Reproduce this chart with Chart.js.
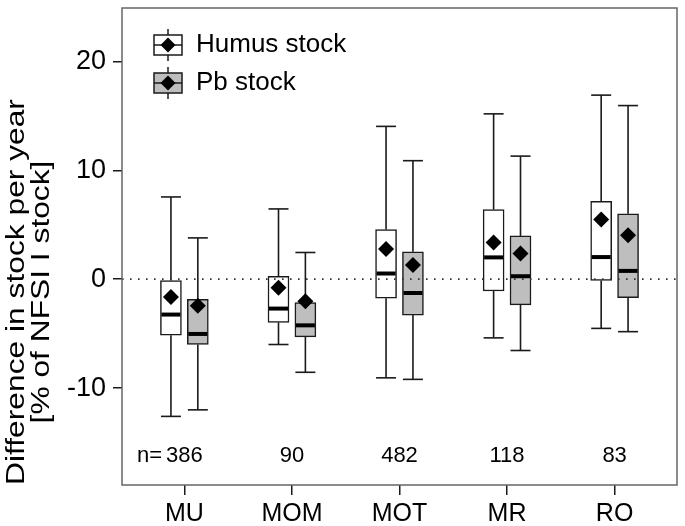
<!DOCTYPE html>
<html lang="en">
  <head>
    <meta charset="UTF-8" />
    <title>Stock change per year</title>
    <style>
      body {
        margin: 0;
        padding: 0;
        background: #fff;
      }
      #chartBox {
        width: 685px;
        height: 526px;
      }
    </style>
  </head>
  <body>
    <div id="chartBox">
      <canvas id="stockChart" width="685" height="526"></canvas>
    </div>

    <script src="https://cdn.jsdelivr.net/npm/chart.js"></script>
    <script>
      // Categories and sample sizes
      const categories = ["MU", "MOM", "MOT", "MR", "RO"];
      const sampleSizes = [386, 90, 482, 118, 83];
      const yTicks = [-10, 0, 10, 20];
      const yTitle = ["Difference in stock per year", "[% of NFSI I stock]"];

      // Humus stock box plot values
      const humusMin = [-12.6, -6.0, -9.06, -5.39, -4.52];
      const humusQ1 = [-5.15, -3.97, -1.75, -1.09, -0.12];
      const humusMedian = [-3.25, -2.7, 0.52, 2.0, 2.03];
      const humusQ3 = [-0.12, 0.27, 4.55, 6.39, 7.15];
      const humusMax = [7.55, 6.45, 14.03, 15.18, 16.9];
      const humusMean = [-1.64, -0.79, 2.76, 3.36, 5.48];

      // Pb stock box plot values
      const pbMin = [-12.0, -8.55, -9.2, -6.55, -4.82];
      const pbQ1 = [-6.0, -5.3, -3.3, -2.36, -1.7];
      const pbMedian = [-5.03, -4.24, -1.27, 0.27, 0.76];
      const pbQ3 = [-1.85, -2.15, 2.52, 3.97, 6.0];
      const pbMax = [3.79, 2.45, 10.88, 11.3, 15.94];
      const pbMean = [-2.45, -2.03, 1.3, 2.36, 4.03];

      const FONT = "'Liberation Sans', Arial, Helvetica, sans-serif";
      const INK = "#1a1a1a";
      const GREY_FILL = "#bebebe";
      const OFFSET = 0.125; // shift of each series from the category tick
      const N_LABEL_Y = -16.2; // value where the n= labels sit

      const series = [
        {
          label: "Humus stock",
          fill: "#ffffff",
          off: -OFFSET,
          min: humusMin,
          q1: humusQ1,
          med: humusMedian,
          q3: humusQ3,
          max: humusMax,
          mean: humusMean,
        },
        {
          label: "Pb stock",
          fill: GREY_FILL,
          off: OFFSET,
          min: pbMin,
          q1: pbQ1,
          med: pbMedian,
          q3: pbQ3,
          max: pbMax,
          mean: pbMean,
        },
      ];

      const boxDatasets = series.map((s, k) => ({
        type: "bar",
        label: s.label,
        seriesIndex: k,
        data: categories.map((c, i) => ({ x: i + 1 + s.off, y: [s.q1[i], s.q3[i]] })),
        backgroundColor: s.fill,
        borderColor: INK,
        borderWidth: 1.5,
        borderSkipped: false,
        barThickness: 21,
        grouped: false,
        order: 2,
      }));

      const meanDatasets = series.map((s) => ({
        type: "scatter",
        label: s.label + " mean",
        data: categories.map((c, i) => ({ x: i + 1 + s.off, y: s.mean[i] })),
        pointStyle: "rectRot",
        pointRadius: 8,
        pointHoverRadius: 8,
        backgroundColor: "#000",
        borderWidth: 0,
        order: 1,
      }));

      function line(ctx, x1, y1, x2, y2) {
        ctx.beginPath();
        ctx.moveTo(x1, y1);
        ctx.lineTo(x2, y2);
        ctx.stroke();
      }

      // Whiskers, medians, zero line, frame, legend, n labels and y title
      const boxPlotExtras = {
        id: "boxPlotExtras",
        beforeDatasetsDraw(chart) {
          const { ctx, scales } = chart;
          const xs = scales.x;
          const ys = scales.y;
          ctx.save();
          ctx.strokeStyle = INK;
          ctx.lineWidth = 1.6;
          series.forEach((s) => {
            categories.forEach((c, i) => {
              const x = xs.getPixelForValue(i + 1 + s.off);
              const half = 10;
              const yMax = ys.getPixelForValue(s.max[i]);
              const yMin = ys.getPixelForValue(s.min[i]);
              line(ctx, x, ys.getPixelForValue(s.q3[i]), x, yMax);
              line(ctx, x, ys.getPixelForValue(s.q1[i]), x, yMin);
              line(ctx, x - half, yMax, x + half, yMax);
              line(ctx, x - half, yMin, x + half, yMin);
            });
          });
          ctx.restore();
        },
        afterDatasetDraw(chart, args) {
          const ds = chart.data.datasets[args.index];
          if (ds.type !== "bar") return;
          const s = series[ds.seriesIndex];
          const { ctx, scales } = chart;
          const meta = chart.getDatasetMeta(args.index);
          ctx.save();
          ctx.strokeStyle = "#000";
          ctx.lineWidth = 4;
          meta.data.forEach((bar, i) => {
            const y = scales.y.getPixelForValue(s.med[i]);
            line(ctx, bar.x - bar.width / 2 + 1, y, bar.x + bar.width / 2 - 1, y);
          });
          // dotted zero line over the boxes (bars are drawn last index first)
          if (ds.seriesIndex === 0) {
            const area = chart.chartArea;
            const y0 = scales.y.getPixelForValue(0);
            ctx.strokeStyle = "#333";
            ctx.lineWidth = 1.6;
            ctx.setLineDash([1.6, 6.4]);
            line(ctx, area.left, y0, area.right, y0);
          }
          ctx.restore();
        },
        afterDraw(chart) {
          const { ctx, scales } = chart;
          const area = chart.chartArea;
          ctx.save();

          // plot frame
          ctx.strokeStyle = "#666";
          ctx.lineWidth = 1.5;
          ctx.strokeRect(area.left, area.top, area.right - area.left, area.bottom - area.top);

          // sample sizes, number centred on the tick, "n=" in front of the first
          ctx.fillStyle = "#000";
          ctx.font = "22px " + FONT;
          ctx.textBaseline = "middle";
          const ny = scales.y.getPixelForValue(N_LABEL_Y);
          sampleSizes.forEach((n, i) => {
            const nx = scales.x.getPixelForValue(i + 1);
            ctx.textAlign = "center";
            ctx.fillText(String(n), nx, ny);
            if (i === 0) {
              const w = ctx.measureText(String(n)).width;
              ctx.textAlign = "right";
              ctx.fillText("n=", nx - w / 2 - 4, ny);
            }
          });

          // y axis title, two rotated lines
          ctx.save();
          ctx.translate(0, 292);
          ctx.rotate(-Math.PI / 2);
          ctx.scale(1.27, 1);
          ctx.font = "25px " + FONT;
          ctx.textAlign = "center";
          ctx.textBaseline = "middle";
          ctx.fillText(yTitle[0], 0, 17);
          ctx.fillText(yTitle[1], 0, 42);
          ctx.restore();

          // legend
          const lx = area.left + 46;
          const ly = area.top + 37;
          series.forEach((s, k) => {
            const cy = ly + k * 38;
            ctx.strokeStyle = INK;
            ctx.lineWidth = 1.5;
            line(ctx, lx, cy - 16, lx, cy + 16);
            ctx.fillStyle = s.fill;
            ctx.fillRect(lx - 14, cy - 10, 28, 20);
            ctx.strokeRect(lx - 14, cy - 10, 28, 20);
            line(ctx, lx - 14, cy, lx + 14, cy);
            ctx.fillStyle = "#000";
            ctx.beginPath();
            ctx.moveTo(lx, cy - 7.5);
            ctx.lineTo(lx + 7.5, cy);
            ctx.lineTo(lx, cy + 7.5);
            ctx.lineTo(lx - 7.5, cy);
            ctx.closePath();
            ctx.fill();
            ctx.font = "26px " + FONT;
            ctx.textAlign = "left";
            ctx.textBaseline = "middle";
            ctx.fillText(s.label, lx + 28, cy);
          });
          ctx.restore();
        },
      };

      const ctx = document.getElementById("stockChart").getContext("2d");
      const stockChart = new Chart(ctx, {
        type: "bar",
        data: {
          datasets: [...meanDatasets, ...boxDatasets],
        },
        options: {
          responsive: false,
          animation: false,
          devicePixelRatio: 1,
          layout: {
            padding: { top: 3, right: 5, left: 0, bottom: 0 },
          },
          plugins: {
            legend: { display: false },
            tooltip: { enabled: false },
          },
          scales: {
            x: {
              type: "linear",
              min: 0.42,
              max: 5.58,
              offset: false,
              afterBuildTicks: (scale) => {
                scale.ticks = categories.map((c, i) => ({ value: i + 1 }));
              },
              afterFit: (scale) => {
                scale.height = 41;
                scale.paddingLeft = 0;
                scale.paddingRight = 0;
              },
              ticks: {
                callback: (value) => categories[value - 1],
                color: "#000",
                font: { family: FONT, size: 25 },
                padding: 4,
                maxRotation: 0,
                autoSkip: false,
              },
              grid: {
                offset: false,
                drawOnChartArea: false,
                drawTicks: true,
                tickLength: 10,
                color: INK,
                lineWidth: 1.5,
              },
              border: { display: false },
            },
            y: {
              min: -18.9,
              max: 24.9,
              afterBuildTicks: (scale) => {
                scale.ticks = yTicks.map((v) => ({ value: v }));
              },
              afterFit: (scale) => {
                scale.width = 122;
                scale.paddingTop = 0;
                scale.paddingBottom = 0;
              },
              ticks: {
                color: "#000",
                font: { family: FONT, size: 27 },
                padding: 7,
              },
              grid: {
                drawOnChartArea: false,
                drawTicks: true,
                tickLength: 9,
                color: INK,
                lineWidth: 1.5,
              },
              border: { display: false },
            },
          },
        },
        plugins: [boxPlotExtras],
      });
    </script>
  </body>
</html>
